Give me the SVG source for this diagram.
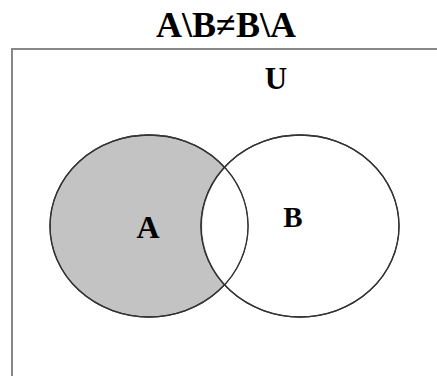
<svg xmlns="http://www.w3.org/2000/svg" width="437" height="376" viewBox="0 0 437 376">
<style>
.lbl{font-family:"Liberation Serif","Times New Roman",serif;font-weight:bold;fill:#000;text-anchor:middle}
.set{stroke:#333;stroke-width:1.3}
</style>
<rect x="0" y="0" width="437" height="376" fill="#fff"/>
<text class="lbl" x="226" y="37" font-size="36">A\B≠B\A</text>
<g id="universe">
<rect x="12" y="49" width="440" height="340" fill="none" stroke="#888" stroke-width="2"/>
<text class="lbl" x="276" y="89" font-size="31">U</text>
</g>
<g id="setA">
<ellipse class="set" cx="149" cy="226" rx="99" ry="91" fill="#c3c3c3"/>
</g>
<g id="setB">
<ellipse class="set" cx="300" cy="226" rx="99" ry="91" fill="none"/>
</g>
<path d="M225,168 A99,91 0 0 0 225,284 A99,91 0 0 0 225,168 Z" fill="#fff"/>
<ellipse class="set" cx="149" cy="226" rx="99" ry="91" fill="none"/>
<ellipse class="set" cx="300" cy="226" rx="99" ry="91" fill="none"/>
<text class="lbl" x="148" y="238" font-size="32">A</text>
<text class="lbl" x="293" y="227" font-size="29">B</text>
</svg>
